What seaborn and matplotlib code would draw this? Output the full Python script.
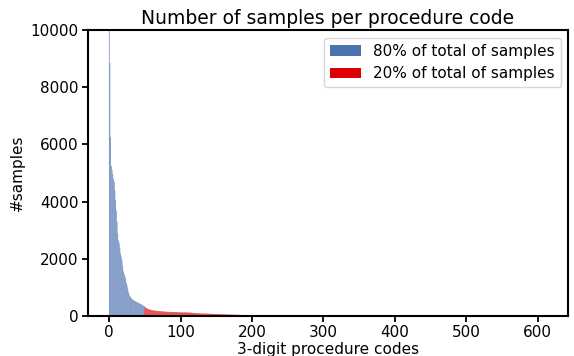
import pandas as pd
import matplotlib.pyplot as plt
import seaborn as sns

# === Datos (número de muestras por código, ordenado) ===
muestras_80 = [
    10500, 8850, 6250, 5250, 5100, 4950, 4800, 4700, 4400, 4050,
    3700, 3300, 2900, 2650, 2550, 2400, 2200, 2080, 1950, 1750,
    1560, 1480, 1400, 1320, 1180, 1080, 960, 850, 760, 700,
    660, 630, 600, 580, 560, 545, 530, 515, 500, 490,
    475, 460, 450, 440, 425, 410, 395, 380, 365, 350,
]

muestras_20 = [
    320, 300, 285, 270, 255, 245, 235, 228, 220, 214, 208, 203, 198, 194, 190, 187, 184, 181, 178, 176,
    174, 172, 170, 168, 166, 164, 162, 160, 158, 156, 154, 152, 150, 149, 148, 147, 146, 145, 144, 143,
    142, 141, 140, 139, 138, 137, 136, 135, 134, 133, 132, 131, 130, 130, 130, 129, 129, 129, 128, 128,
    128, 126, 124, 122, 120, 118, 116, 114, 112, 110, 108, 106, 104, 102, 100, 98, 97, 96, 95, 94,
    93, 92, 91, 90, 89, 88, 87, 86, 85, 84, 83, 82, 81, 80, 79, 78, 77, 76, 75, 74,
    73, 72, 71, 70, 69, 68, 67, 66, 65, 64, 63, 62, 61, 60, 59, 58, 57, 56, 55, 54,
    53, 52, 51, 50, 50, 49, 48, 47, 47, 46, 45, 44, 44, 43, 42, 41, 41, 40, 39, 38,
    38, 37, 36, 36, 35, 34, 34, 33, 32, 32, 31, 30, 30, 29, 28, 28, 27, 26, 26, 25,
    25, 24, 24, 23, 23, 22, 22, 21, 21, 20, 20, 19, 19, 18, 18, 17, 17, 16, 16, 15,
    15, 15, 14, 14, 14, 13, 13, 13, 12, 12, 12, 11, 11, 11, 10, 10, 10, 10, 9, 9,
    9, 9, 9, 8, 8, 8, 8, 8, 8, 7, 7, 7, 7, 7, 7, 7, 6, 6, 6, 6,
    6, 6, 6, 6, 6, 5, 5, 5, 5, 5, 5, 5, 5, 5, 5, 4, 4, 4, 4, 4,
    4, 4, 4, 4, 4, 4, 4, 4, 4, 4, 4, 4, 3, 3, 3, 3, 3, 3, 3, 3,
    3, 3, 3, 3, 3, 3, 3, 3, 3, 3, 3, 3, 3, 3, 3, 3, 3, 3, 3, 3,
    3, 3, 3, 3, 3, 3, 3, 3, 2, 2, 2, 2, 2, 2, 2, 2, 2, 2, 2, 2,
    2, 2, 2, 2, 2, 2, 2, 2, 2, 2, 2, 2, 2, 2, 2, 2, 2, 2, 2, 2,
    2, 2, 2, 2, 2, 2, 2, 2, 2, 2, 2, 2, 2, 2, 2, 2, 2, 2, 2, 2,
    2, 2, 2, 2, 2, 2, 2, 2, 2, 2, 2, 2, 2, 2, 2, 2, 2, 2, 2, 2,
    2, 2, 2, 2, 2, 2, 2, 2, 2, 2, 1, 1, 1, 1, 1, 1, 1, 1, 1, 1,
    1, 1, 1, 1, 1, 1, 1, 1, 1, 1, 1, 1, 1, 1, 1, 1, 1, 1, 1, 1,
    1, 1, 1, 1, 1, 1, 1, 1, 1, 1, 1, 1, 1, 1, 1, 1, 1, 1, 1, 1,
    1, 1, 1, 1, 1, 1, 1, 1, 1, 1, 1, 1, 1, 1, 1, 1, 1, 1, 1, 1,
    1, 1, 1, 1, 1, 1, 1, 1, 1, 1, 1, 1, 1, 1, 1, 1, 1, 1, 1, 1,
    1, 1, 1, 1, 1, 1, 1, 1, 1, 1, 1, 1, 1, 1, 1, 1, 1, 1, 1, 1,
    1, 1, 1, 1, 1, 1, 1, 1, 1, 1, 1, 1, 1, 1, 1, 1, 1, 1, 1, 1,
    1, 1, 1, 1, 1, 1, 1, 1, 1, 1, 1, 1, 1, 1, 1, 1, 1, 1, 1, 1,
    1, 1, 1, 1, 1, 1, 1, 1, 1, 1, 1, 1, 1, 1, 1, 1, 1, 1, 1, 1,
    1, 1, 1, 1, 1, 1, 1, 1, 1, 1, 1, 1, 1, 1,
]

etiqueta_80 = "80% of total of samples"
etiqueta_20 = "20% of total of samples"

# === Armar tabla ===
valores = muestras_80 + muestras_20
grupos = [etiqueta_80] * len(muestras_80) + [etiqueta_20] * len(muestras_20)
df = pd.DataFrame({"codigo": range(len(valores)), "muestras": valores, "grupo": grupos})

# === Gráfico ===
sns.set_style("ticks", {"axes.edgecolor": "black", "xtick.color": "black", "ytick.color": "black",
                        "text.color": "black", "axes.labelcolor": "black"})
plt.rcParams["font.family"] = ["DejaVu Sans"]

fig, ax = plt.subplots(figsize=(5.74, 3.56), dpi=100)
fig.subplots_adjust(left=0.153, right=0.99, top=0.916, bottom=0.112)

sns.barplot(data=df, x="codigo", y="muestras", hue="grupo", native_scale=True, dodge=False,
            palette={etiqueta_80: "#4C72B0", etiqueta_20: "#de0000"}, saturation=1,
            linewidth=0, ax=ax)

# barras finas: sin "snap" para que no desaparezcan
for barra in ax.patches:
    barra.set_snap(False)
    barra.set_antialiased(True)

ax.set_ylim(0, 10000)
ax.set_xlim(-30, 643)
ax.set_xticks([0, 100, 200, 300, 400, 500, 600])
ax.set_yticks([0, 2000, 4000, 6000, 8000, 10000])
ax.set_title("Number of samples per procedure code", fontsize=13.5, pad=4)
ax.set_xlabel("3-digit procedure codes", fontsize=11, labelpad=1)
ax.set_ylabel("#samples", fontsize=11)
ax.tick_params(labelsize=11, length=4.5, width=1.3, pad=2)
for lado in ax.spines.values():
    lado.set_linewidth(1.5)

sns.move_legend(ax, "upper right", title=None, frameon=True, fontsize=11)

plt.savefig("out.png", dpi=100)
plt.close()
